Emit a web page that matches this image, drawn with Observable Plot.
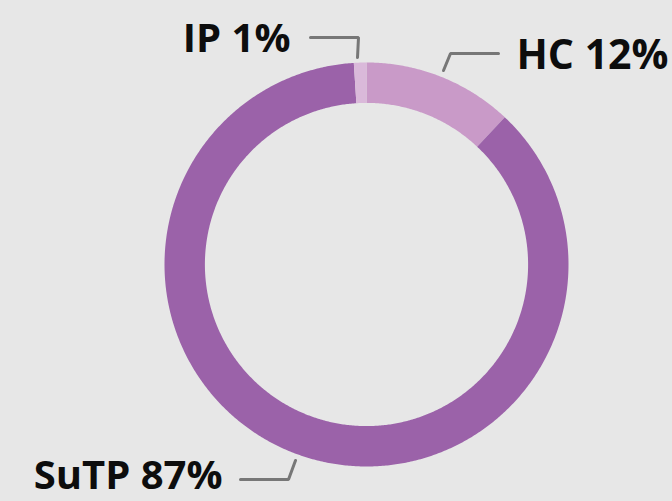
<!DOCTYPE html>
<html>
<head>
<meta charset="utf-8">
<script src="https://cdn.jsdelivr.net/npm/d3@7"></script>
<script src="https://cdn.jsdelivr.net/npm/@observablehq/plot@0.6"></script>
<style>
  html, body { margin: 0; padding: 0; background: #e7e7e7; }
  #chart svg { display: block; }
</style>
</head>
<body>
<div id="chart"></div>
<script>
// Data
const categories = ["HC", "SuTP", "IP"];
const shares = [12, 87, 1];
const labels = ["HC 12%", "SuTP 87%", "IP 1%"];
const colors = ["#c99ac8", "#9b62a9", "#dab9da"];

const W = 672, H = 501;
const R = 202;            // outer radius in px
const cx = 366, cy = 264; // centre in px
const innerRatio = 0.80;

// build ring-slice polygons in unit coordinates (radius 1)
const pie = d3.pie().sort(null).value(d => d.v)(categories.map((k, i) => ({k, v: shares[i]})));
const pts = [];
for (const a of pie) {
  const n = Math.max(8, Math.ceil((a.endAngle - a.startAngle) * 120));
  const outer = [], inner = [];
  for (let j = 0; j <= n; j++) {
    const t = a.startAngle + (a.endAngle - a.startAngle) * j / n;
    outer.push({key: a.data.k, x: Math.sin(t), y: Math.cos(t)});
    inner.push({key: a.data.k, x: innerRatio * Math.sin(t), y: innerRatio * Math.cos(t)});
  }
  pts.push(...outer, ...inner.reverse());
}

// pixel -> unit helpers for annotation placement
const ux = px => (px - cx) / R;
const uy = py => (cy - py) / R;

const labelData = [
  {text: labels[0], x: ux(516), y: uy(55), anchor: "start"},
  {text: labels[1], x: ux(222), y: uy(476), anchor: "end"},
  {text: labels[2], x: ux(290), y: uy(39), anchor: "end"}
];
const leaders = [
  {key: "HC", pts: [[443, 70], [450, 53], [498, 53]]},
  {key: "SuTP", pts: [[240, 479], [288, 479], [295, 460]]},
  {key: "IP", pts: [[310, 37], [358, 37], [357, 57]]}
].flatMap(l => l.pts.map(([px, py]) => ({key: l.key, x: ux(px), y: uy(py)})));

const chart = Plot.plot({
  width: W,
  height: H,
  margin: 0,
  x: {domain: [ux(0), ux(W)], axis: null},
  y: {domain: [uy(H), uy(0)], axis: null},
  color: {domain: categories, range: colors},
  style: {background: "#e7e7e7", overflow: "visible"},
  marks: [
    Plot.line(pts, {x: "x", y: "y", z: "key", fill: "key", stroke: "none"}),
    Plot.line(leaders, {x: "x", y: "y", z: "key", stroke: "#777777", strokeWidth: 3, strokeLinejoin: "miter"}),
    Plot.text(labelData.filter(d => d.anchor === "start"), {x: "x", y: "y", text: "text", textAnchor: "start", fontSize: 41, fontWeight: "bold", fill: "#0d0d0d", fontFamily: "Open Sans"}),
    Plot.text(labelData.filter(d => d.anchor === "end"), {x: "x", y: "y", text: "text", textAnchor: "end", fontSize: 40, fontWeight: "bold", fill: "#0d0d0d", fontFamily: "Open Sans"})
  ]
});
document.getElementById("chart").appendChild(chart);
</script>
</body>
</html>
